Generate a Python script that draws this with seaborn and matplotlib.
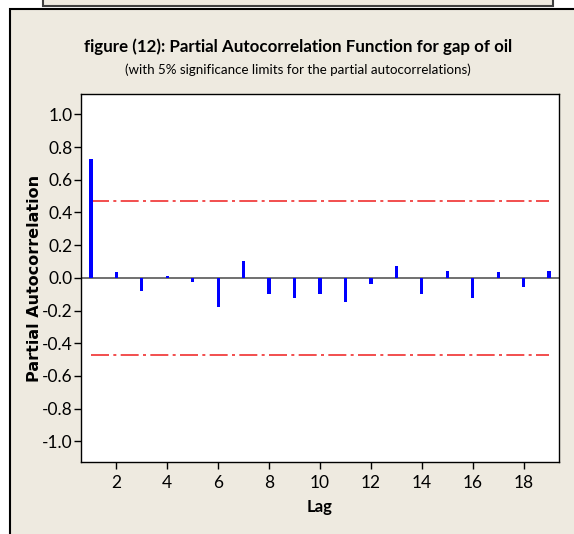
import numpy as np
import pandas as pd
import matplotlib
matplotlib.use('Agg')
import matplotlib.pyplot as plt
from matplotlib.patches import Rectangle
import seaborn as sns

# partial autocorrelations, lags 1..19
lags = list(range(1, 20))
pacf = [0.726, 0.035, -0.081, 0.010, -0.024, -0.180, 0.102, -0.100, -0.122,
        -0.100, -0.149, -0.040, 0.070, -0.100, 0.043, -0.122, 0.035, -0.057, 0.043]
sig_limit = 0.471
yticks = [1.0, 0.8, 0.6, 0.4, 0.2, 0.0, -0.2, -0.4, -0.6, -0.8, -1.0]
xticks = [2, 4, 6, 8, 10, 12, 14, 16, 18]

title = 'figure (12): Partial Autocorrelation Function for gap of oil'
subtitle = '(with 5% significance limits for the partial autocorrelations)'

beige = '#EEEAE0'
narrow = ['Lato', 'DejaVu Sans']

sns.set_style('ticks')
plt.rcParams['font.family'] = narrow

W, H = 574, 534
fig = plt.figure(figsize=(W / 100, H / 100), dpi=100, facecolor='white')

# background panels (figure pixel coords -> fractions)
def px_rect(x0, y0, x1, y1, **kw):
    return Rectangle((x0 / W, 1 - y1 / H), (x1 - x0) / W, (y1 - y0) / H,
                     transform=fig.transFigure, zorder=-5, **kw)

fig.patches.append(px_rect(43, -5, 553, 5.5, facecolor=beige, edgecolor='#404040', lw=1.5))
fig.patches.append(px_rect(10, 8.5, W + 10, H + 10, facecolor=beige, edgecolor='black', lw=1.5))

ax = fig.add_axes([81 / W, 1 - 462 / H, (558.5 - 81) / W, (462 - 94) / H])
ax.set_facecolor('white')

df = pd.DataFrame({'Lag': lags, 'PACF': pacf})
sns.barplot(data=df, x='Lag', y='PACF', native_scale=True, width=0.13,
            color='#0000FF', saturation=1, linewidth=0, ax=ax, zorder=3)

ax.axhline(0, color='#707070', lw=1.4, zorder=2)
for s in (sig_limit, -sig_limit):
    ax.hlines(s, lags[0], lags[-1], color='#F03030', lw=1.2,
              linestyles=[(0, (10.8, 2.6, 1.8, 2.6))], zorder=2)

ax.set_xlim(0.61, 19.37)
ax.set_ylim(-1.127, 1.125)
ax.set_xticks(xticks)
ax.set_xticklabels([str(t) for t in xticks])
ax.set_yticks(yticks)
ax.set_yticklabels([f'{t:.1f}' for t in yticks])
ax.tick_params(axis='both', length=5, width=1, color='black', labelsize=12.5,
               labelcolor='black')
ax.tick_params(axis='x', pad=4)
ax.tick_params(axis='y', pad=1)
for sp in ax.spines.values():
    sp.set_visible(True)
    sp.set_color('black')
    sp.set_linewidth(1)

ax.set_xlabel('Lag', fontsize=12, fontweight='bold', color='black', labelpad=6)
ax.set_ylabel('Partial Autocorrelation', fontsize=11.5, fontweight='bold',
              color='black', family=['DejaVu Sans'], labelpad=0)

fig.text(298 / W, 1 - 47 / H, title, ha='center', va='center',
         fontsize=12.2, fontweight='bold', color='black')
fig.text(298 / W, 1 - 70 / H, subtitle, ha='center', va='center',
         fontsize=9.6, color='black')

fig.savefig('out.png', dpi=100, facecolor='white')
